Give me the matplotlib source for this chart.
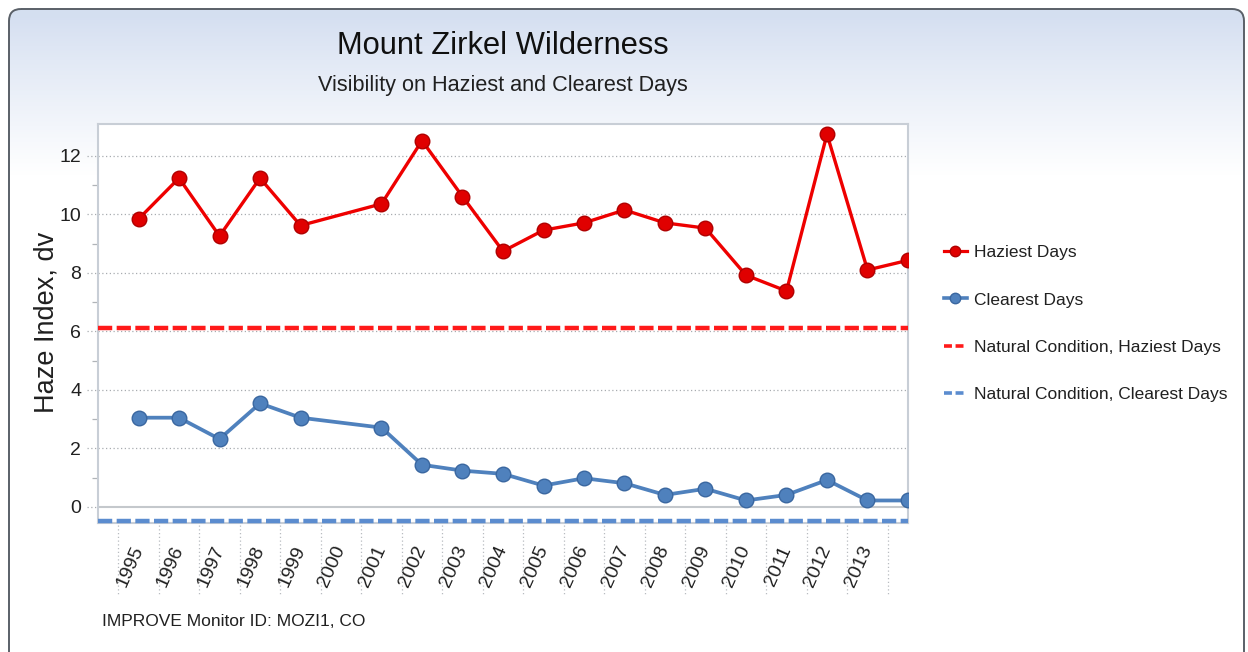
import matplotlib
matplotlib.use("Agg")
import matplotlib.pyplot as plt
import numpy as np
from matplotlib.patches import FancyBboxPatch
from matplotlib.lines import Line2D
import matplotlib.transforms as mtransforms

# ---------------- data ----------------
years = [1995, 1996, 1997, 1998, 1999, 2000, 2001, 2002, 2003, 2004,
         2005, 2006, 2007, 2008, 2009, 2010, 2011, 2012, 2013, 2014]
tick_labels = ["1995", "1996", "1997", "1998", "1999", "2000", "2001", "2002",
               "2003", "2004", "2005", "2006", "2007", "2008", "2009", "2010",
               "2011", "2012", "2013"]
haziest = [9.84, 11.24, 9.26, 11.24, 9.62, None, 10.36, 12.52, 10.61, 8.74,
           9.46, 9.71, 10.15, 9.71, 9.53, 7.92, 7.38, 12.74, 8.10, 8.43]
clearest = [3.05, 3.05, 2.32, 3.54, 3.05, None, 2.71, 1.44, 1.24, 1.13,
            0.73, 0.98, 0.81, 0.41, 0.62, 0.22, 0.41, 0.92, 0.22, 0.22]
natural_haziest = 6.1
natural_clearest = -0.48
yticks = [0, 2, 4, 6, 8, 10, 12]

# ---------------- fonts ----------------
REG = "Liberation Sans"
plt.rcParams["font.family"] = [REG, "DejaVu Sans"]

W, H = 1248, 652
fig = plt.figure(figsize=(W / 100, H / 100), dpi=100)
fig.patch.set_facecolor("white")

def fx(px):
    return px / W

def fy(py):
    return 1 - py / H

# background panel with gradient
bg = fig.add_axes([0, 0, 1, 1], zorder=-10)
bg.set_xlim(0, W)
bg.set_ylim(H, 0)
bg.axis("off")
grad = np.ones((H, 1, 3))
top = np.array([0.835, 0.875, 0.945])
for i in range(H):
    t = min(max((i - 8) / 160.0, 0), 1)
    t = t ** 0.9
    grad[i, 0, :] = top * (1 - t) + np.array([1.0, 1.0, 1.0]) * t
panel = FancyBboxPatch((9, 9), 1235, 700, boxstyle="round,pad=0,rounding_size=12",
                       facecolor="none", edgecolor="#5a6068", linewidth=1.4)
bg.add_patch(panel)
im = bg.imshow(grad, extent=[9, 1244, H, 9], aspect="auto", zorder=0)
im.set_clip_path(panel)

# ---------------- main axes ----------------
ax = fig.add_axes([fx(98), fy(523), fx(908) - fx(98), (523 - 124) / H])
ax.set_facecolor("white")
x = np.arange(len(years))
ax.set_xlim(-1, len(years) - 1)
ax.set_ylim(-0.55, 13.09)

hx = [xi for xi, v in zip(x, haziest) if v is not None]
hv = [v for v in haziest if v is not None]
cx = [xi for xi, v in zip(x, clearest) if v is not None]
cv = [v for v in clearest if v is not None]

red = "#ee0000"
blue = "#4f81bd"
ax.plot(hx, hv, color=red, lw=2.4, marker="o", ms=10.5, mfc="#e00000",
        mec="#b00000", mew=1.0, zorder=5, label="Haziest Days")
ax.plot(cx, cv, color=blue, lw=2.7, marker="o", ms=10.5, mfc="#4f81bd",
        mec="#3a67a0", mew=1.0, zorder=5, label="Clearest Days")
ax.axhline(natural_haziest, color="#ff1a1a", lw=3.2, ls=(0, (3.2, 1.0)), zorder=4,
           label="Natural Condition, Haziest Days")
ax.axhline(natural_clearest, color="#5b8ccf", lw=3.2, ls=(0, (3.2, 1.0)), zorder=4,
           label="Natural Condition, Clearest Days", clip_on=False)

# grid
for yt in yticks[1:]:
    ax.axhline(yt, color="#a8acb0", lw=0.9, ls=(0, (1, 2)), zorder=1)
ax.axhline(0, color="#c4c8cc", lw=1.5, zorder=2)

# outer dotted tick marks on y
tr_y = mtransforms.blended_transform_factory(ax.transAxes, ax.transData)
for yt in yticks:
    ax.plot([-0.013, 0], [yt, yt], transform=tr_y, color="#a8acb0", lw=0.9,
            ls=(0, (1, 2)), clip_on=False)

# vertical dotted category separators below axes
tr_x = mtransforms.blended_transform_factory(ax.transData, ax.transAxes)
for b in np.arange(-0.5, len(tick_labels), 1.0):
    ax.plot([b, b], [-0.006, -0.18], transform=tr_x, color="#b8bcc0", lw=0.9,
            ls=(0, (1, 2)), clip_on=False)

for s in ["left", "top", "right", "bottom"]:
    ax.spines[s].set_color("#c8ced6")
    ax.spines[s].set_linewidth(1.5)

ax.set_yticks(yticks)
ax.set_yticklabels([str(v) for v in yticks], fontsize=14, color="#202020")
ax.set_yticks(np.arange(1, 13, 2), minor=True)
ax.tick_params(axis="y", which="major", length=0, pad=12)
ax.tick_params(axis="y", which="minor", length=4, width=0.9, color="#b0b4b8", direction="out")

ax.set_xticks(np.arange(len(tick_labels)))
ax.set_xticklabels(tick_labels, rotation=66, ha="right", va="center",
                   rotation_mode="anchor", fontsize=14, color="#202020")
ax.tick_params(axis="x", length=0, pad=17)

ax.set_ylabel("Haze Index, dv", fontsize=19.5, color="#202020")
ax.yaxis.set_label_coords((59 - 98) / (908 - 98), (523 - 322) / 399)

# legend
handles = [
    Line2D([], [], color=red, lw=2.3, marker="o", ms=7.5, mfc="#e00000", mec="#b00000"),
    Line2D([], [], color=blue, lw=2.6, marker="o", ms=7.5, mfc="#4f81bd", mec="#3a67a0"),
    Line2D([], [], color="#ff1a1a", lw=2.6, ls=(0, (2.2, 1.0))),
    Line2D([], [], color="#5b8ccf", lw=2.6, ls=(0, (2.2, 1.0))),
]
labels = ["Haziest Days", "Clearest Days", "Natural Condition, Haziest Days",
          "Natural Condition, Clearest Days"]
leg = fig.legend(handles, labels, loc="center left",
                 bbox_to_anchor=(fx(944), fy(323.5)), frameon=False,
                 fontsize=12.5, handlelength=1.3, handletextpad=0.45,
                 labelspacing=1.84, borderpad=0, borderaxespad=0)
for t in leg.get_texts():
    t.set_color("#202020")

# titles
fig.text(fx(503), fy(46), "Mount Zirkel Wilderness", ha="center", va="center",
         fontsize=22.2, color="#101010")
fig.text(fx(503), fy(85), "Visibility on Haziest and Clearest Days", ha="center",
         va="center", fontsize=15.6, color="#202020")
fig.text(fx(102), fy(622), "IMPROVE Monitor ID: MOZI1, CO", ha="left", va="center",
         fontsize=12.5, color="#202020")

fig.savefig("out.png", dpi=100)
